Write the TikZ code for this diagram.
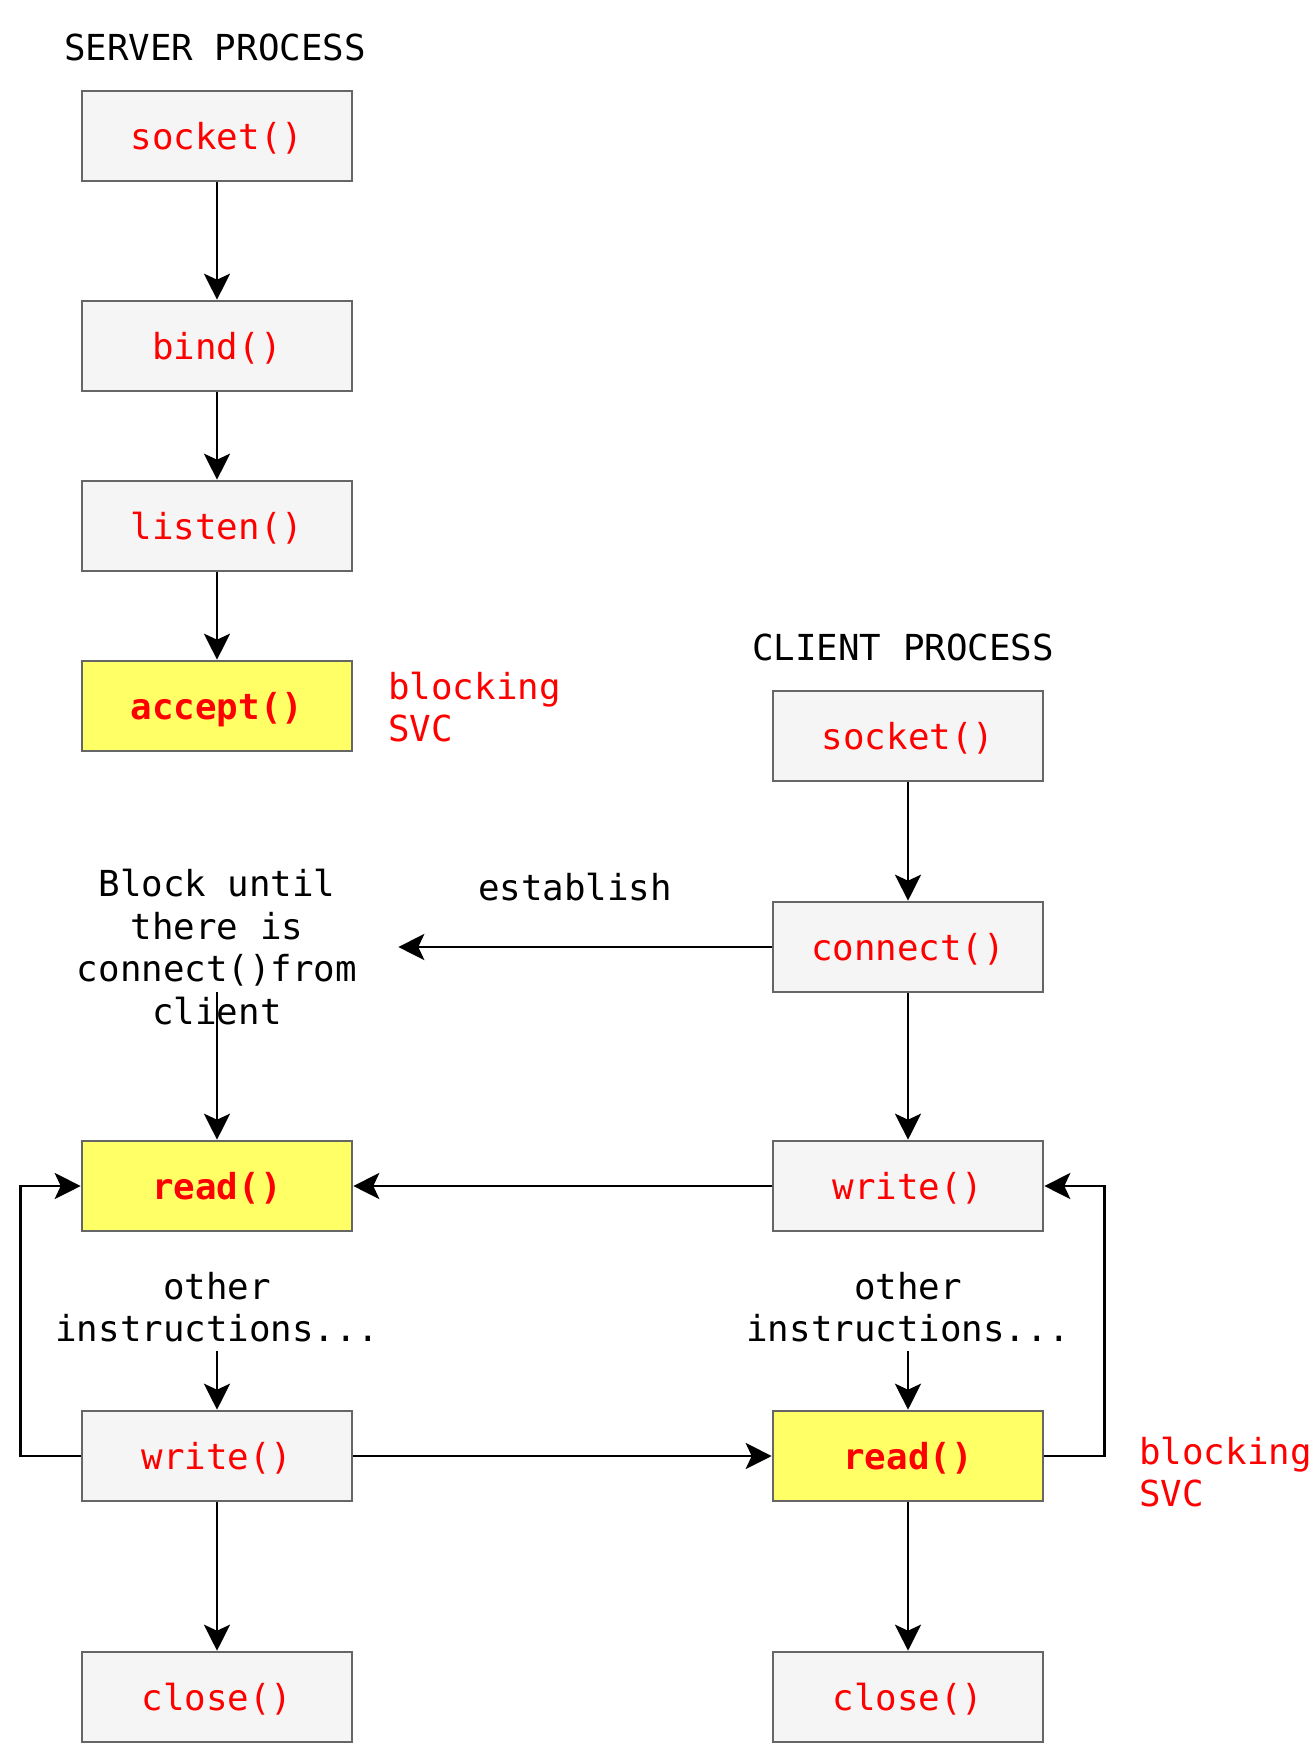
\documentclass[tikz,border=0pt]{standalone}
\usepackage{fontspec}
\setmonofont{DejaVu Sans Mono}
\usetikzlibrary{arrows.meta}
\definecolor{boxgray}{HTML}{666666}
\definecolor{boxfill}{HTML}{F5F5F5}
\definecolor{callyellow}{HTML}{FFFF66}
\definecolor{callred}{HTML}{FF0000}
\tikzset{every picture/.style={/utils/exec={\ttfamily\fontsize{17.9}{21.3}\selectfont}}}

\begin{document}
\begin{tikzpicture}[x=0.5pt, y=-0.5pt, line width=1.3pt,
    >={Stealth[length=13pt, width=13pt, inset=3pt]},
    call/.style={draw=boxgray, fill=boxfill, text=callred, minimum width=135pt, minimum height=45pt, inner sep=0pt, text depth=0pt},
    blockcall/.style={call, fill=callyellow, font=\bfseries},
    note/.style={align=center, inner sep=0pt},
    svc/.style={align=left, text=callred, inner sep=0pt, anchor=west}]
        \useasboundingbox (0,0) rectangle (1314,1743);

        % Server side
        \node[note] (stitle) at (215,47) {SERVER PROCESS};
        \node[call] (ssocket) at (217,136) {socket()};
        \node[call] (sbind) at (217,346) {bind()};
        \node[call] (slisten) at (217,526) {listen()};
        \node[blockcall] (saccept) at (217,706) {accept()};
        \node[svc] (ssvc) at (387,707) {blocking\\SVC};
        \node[note, minimum width=180pt] (swait) at (217,947) {Block until\\there is\\connect()from\\client};
        \coordinate (swaitout) at (217,992);
        \node[blockcall] (sread) at (217,1186) {read()};
        \node[note] (sother) at (217,1307) {other\\instructions...};
        \coordinate (sotherout) at (217,1351);
        \node[call] (swrite) at (217,1456) {write()};
        \node[call] (sclose) at (217,1697) {close()};

        % Client side
        \node[note] (ctitle) at (903,647) {CLIENT PROCESS};
        \node[call] (csocket) at (908,736) {socket()};
        \node[call] (cconnect) at (908,947) {connect()};
        \node[note] (establish) at (575,887) {establish};
        \node[call] (cwrite) at (908,1186) {write()};
        \node[note] (cother) at (908,1307) {other\\instructions...};
        \coordinate (cotherout) at (908,1351);
        \node[blockcall] (cread) at (908,1456) {read()};
        \node[svc] (csvc) at (1138,1472) {blocking\\SVC};
        \node[call] (cclose) at (908,1697) {close()};

        % Server flow
        \draw[->] (ssocket) -- (sbind);
        \draw[->] (sbind) -- (slisten);
        \draw[->] (slisten) -- (saccept);
        \draw[->] (swaitout) -- (sread);
        \draw[->] (sotherout) -- (swrite);
        \draw[->] (swrite) -- (sclose);
        \draw[->] (swrite.west) -- ++(-60,0) |- (sread.west);

        % Client flow
        \draw[->] (csocket) -- (cconnect);
        \draw[->] (cconnect) -- (cwrite);
        \draw[->] (cotherout) -- (cread);
        \draw[->] (cread) -- (cclose);
        \draw[->] (cread.east) -- ++(60,0) |- (cwrite.east);

        % Between the two
        \draw[->] (cconnect) -- (swait);
        \draw[->] (cwrite) -- (sread);
        \draw[->] (swrite) -- (cread);
    \end{tikzpicture}
\end{document}
